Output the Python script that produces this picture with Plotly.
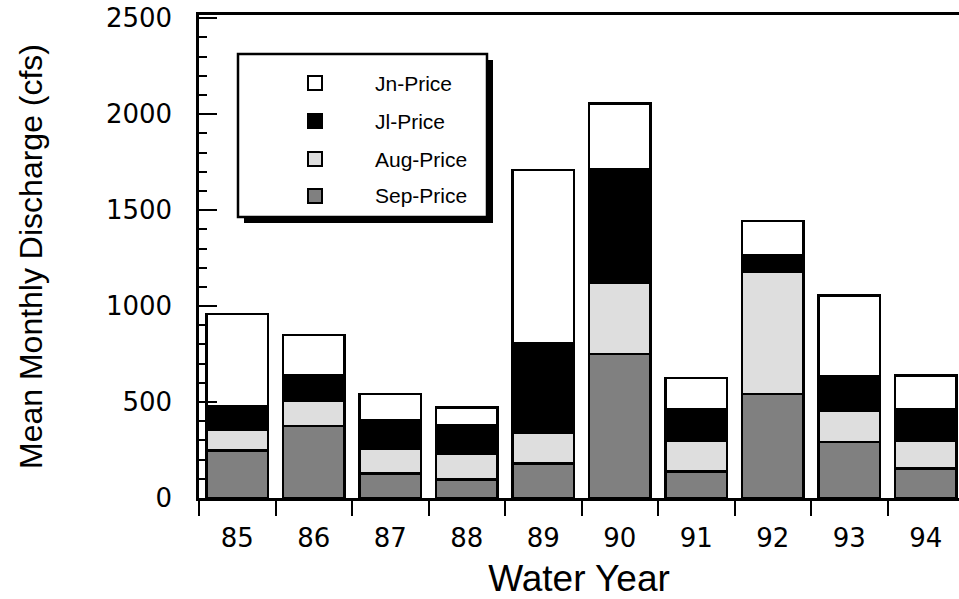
import plotly.graph_objects as go

years = ["85", "86", "87", "88", "89", "90", "91", "92", "93", "94"]
sep_price = [248, 376, 127, 97, 180, 750, 139, 543, 292, 153]
aug_price = [106, 132, 130, 134, 162, 373, 161, 634, 164, 145]
jl_price = [123, 132, 147, 147, 465, 590, 160, 90, 177, 162]
jn_price = [481, 210, 137, 94, 901, 344, 165, 177, 421, 179]

series_names = ["Sep-Price", "Aug-Price", "Jl-Price", "Jn-Price"]
series_values = [sep_price, aug_price, jl_price, jn_price]
series_colors = ["#808080", "#dedede", "#000000", "#ffffff"]

W, H = 959, 599
L, R, T, B = 199, 0, 15, 101
PW, PH = W - L - R, H - T - B

fig = go.Figure()
for name, vals, col in zip(series_names, series_values, series_colors):
    fig.add_trace(go.Bar(
        x=years, y=vals, name=name,
        marker=dict(color=col, line=dict(color="black", width=2.5)),
        width=0.8, showlegend=False,
    ))

# custom legend (box with drop shadow)
def px(x):
    return (x - L) / PW

def py(y):
    return (H - B - y) / PH

shapes = []
bx0, bx1, by0, by1 = 238, 487, 54, 217
shapes.append(dict(type="rect", xref="paper", yref="paper",
                   x0=px(bx0 + 6), x1=px(bx1 + 6), y0=py(by1 + 6), y1=py(by0 + 6),
                   fillcolor="black", line=dict(width=0), layer="above"))
shapes.append(dict(type="rect", xref="paper", yref="paper",
                   x0=px(bx0), x1=px(bx1), y0=py(by1), y1=py(by0),
                   fillcolor="white", line=dict(color="black", width=2.5), layer="above"))
annotations = []
rows = [83, 121, 159, 196]
legend_order = [3, 2, 1, 0]
for ry, idx in zip(rows, legend_order):
    shapes.append(dict(type="rect", xref="paper", yref="paper",
                       x0=px(308), x1=px(322), y0=py(ry + 7), y1=py(ry - 7),
                       fillcolor=series_colors[idx],
                       line=dict(color="black", width=2), layer="above"))
    annotations.append(dict(xref="paper", yref="paper", x=px(373), y=py(ry),
                            text=series_names[idx], showarrow=False,
                            xanchor="left", yanchor="middle",
                            font=dict(family="Liberation Sans", size=21, color="black")))

fig.update_layout(
    width=W, height=H,
    margin=dict(l=L, r=R, t=T, b=B, pad=0),
    barmode="stack",
    plot_bgcolor="white", paper_bgcolor="white",
    shapes=shapes, annotations=annotations,
    showlegend=False,
)
fig.update_xaxes(
    type="category", range=[-0.5, -0.5 + PW / 76.5],
    showline=True, linecolor="black", linewidth=2.5, mirror=True,
    ticks="outside", tickson="boundaries", ticklen=15, tickwidth=2, tickcolor="black",
    showgrid=False, zeroline=False,
    tickfont=dict(family="DejaVu Sans", size=26, color="black"),
    ticklabelstandoff=15,
    title=dict(text="Water Year", font=dict(family="Liberation Sans", size=37, color="black"),
               standoff=14),
)
fig.update_yaxes(
    range=[0, 2517], tickvals=[0, 500, 1000, 1500, 2000, 2500],
    showline=True, linecolor="black", linewidth=2.5,
    ticks="inside", ticklen=18, tickwidth=2, tickcolor="black",
    minor=dict(ticks="inside", ticklen=8, tickwidth=2, dtick=100, tickcolor="black", showgrid=False),
    showgrid=False, zeroline=False,
    tickfont=dict(family="DejaVu Sans", size=26, color="black"),
    ticklabelstandoff=19,
    title=dict(text="Mean Monthly Discharge (cfs)",
               font=dict(family="Liberation Sans", size=32, color="black"), standoff=54),
)

fig.write_html("out.html")
